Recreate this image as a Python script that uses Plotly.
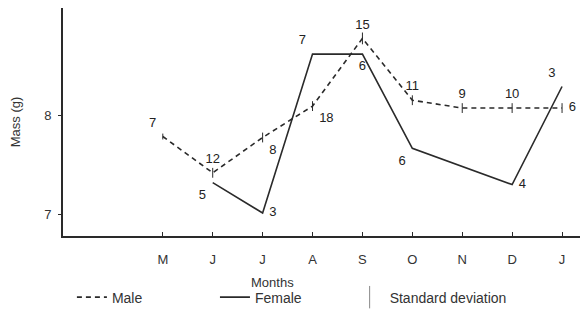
import plotly.graph_objects as go

months = ["M", "J", "J", "A", "S", "O", "N", "D", "J"]
male_mass = [7.79, 7.42, 7.78, 8.10, 8.79, 8.16, 8.08, 8.08, 8.08]
male_sd = [0.03, 0.05, 0.05, 0.05, 0.06, 0.05, 0.05, 0.05, 0.05]
male_n = ["7", "12", "8", "18", "15", "11", "9", "10", "6"]
female_mass = [None, 7.32, 7.01, 8.63, 8.63, 7.67, None, 7.30, 8.30]
female_n = ["", "5", "3", "7", "6", "6", "", "4", "3"]

xi = list(range(len(months)))
ink = "#2a2a2a"
font = dict(family="Liberation Sans, Arial, sans-serif", size=13, color="#333333")
tfont = dict(family="Liberation Sans, Arial, sans-serif", size=13, color="#222222")
lfont = dict(family="Liberation Sans, Arial, sans-serif", size=14, color="#333333")
clear = dict(size=9, color="rgba(0,0,0,0)")

male_pos = ["top left", "top center", "bottom right", "bottom right", "top center",
            "top center", "top center", "top center", "middle right"]
female_pos = ["bottom left", "bottom left", "middle right", "top left", "bottom center",
              "bottom left", "bottom left", "middle right", "top left"]

fig = go.Figure()
fig.add_trace(go.Scatter(
    x=xi, y=male_mass, mode="lines+markers+text", name="Male", legend="legend",
    line=dict(color=ink, width=1.6, dash="5px,4px"), marker=clear,
    text=male_n, textposition=male_pos, textfont=tfont,
    error_y=dict(type="data", array=male_sd, width=0, thickness=1, color=ink),
))
fig.add_trace(go.Scatter(
    x=xi, y=female_mass, mode="lines+markers+text", name="Female", connectgaps=True,
    legend="legend2", marker=clear,
    line=dict(color=ink, width=1.6),
    text=female_n, textposition=female_pos, textfont=tfont,
))
fig.add_trace(go.Scatter(
    x=[None], y=[None], mode="markers", name="Standard deviation", legend="legend3",
    marker=dict(symbol="line-ns", size=16, line=dict(width=1, color="#888888")),
))

fig.add_annotation(x=2.2, xref="x", y=-0.205, yref="paper", text="Months",
                   showarrow=False, font=font, yanchor="middle")

leg = dict(orientation="h", xanchor="left", y=-0.27, yanchor="middle", font=lfont,
           bgcolor="rgba(0,0,0,0)", borderwidth=0)

fig.update_layout(
    width=580, height=324,
    margin=dict(l=55, r=1, t=0, b=96),
    paper_bgcolor="white", plot_bgcolor="white",
    font=font,
    showlegend=True,
    legend=dict(leg, x=0.017),
    legend2=dict(leg, x=0.29),
    legend3=dict(leg, x=0.547),
    xaxis=dict(range=[-2, 8.5], tickvals=xi, ticktext=months, automargin=False,
               showline=True, linecolor=ink, linewidth=2, ticks="inside",
               ticklen=4, tickcolor=ink, showgrid=False, zeroline=False,
               ticklabelstandoff=10),
    yaxis=dict(range=[6.776, 9.1], tickvals=[7, 8], ticktext=["7", "8"], automargin=False,
               showline=True, linecolor=ink, linewidth=2, ticks="outside",
               ticklen=3, tickcolor=ink, showgrid=False, zeroline=False,
               ticklabelstandoff=4,
               title=dict(text="Mass (g)", standoff=22, font=font)),
)

fig.write_html("out.html")
